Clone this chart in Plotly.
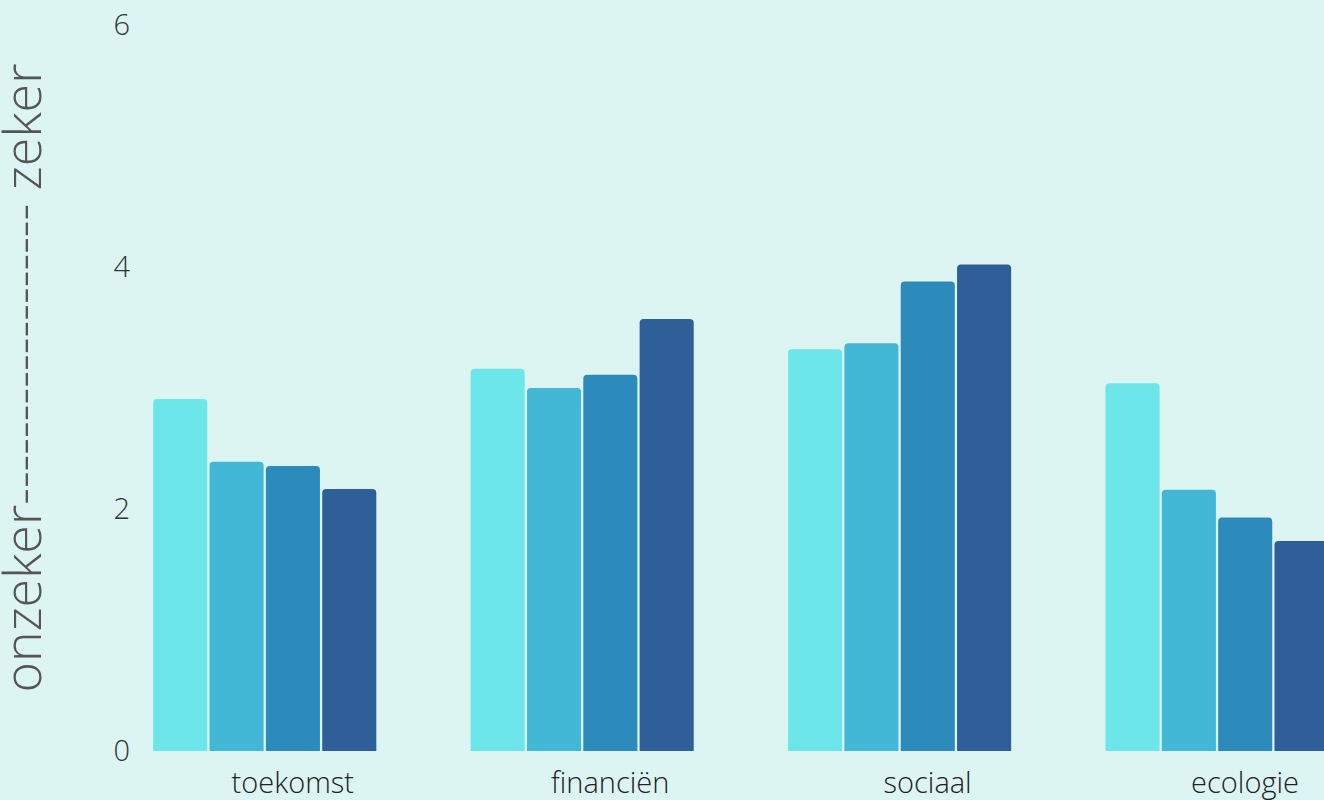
import plotly.graph_objects as go

categories = ["toekomst", "financiën", "sociaal", "ecologie"]
series_names = ["reeks 1", "reeks 2", "reeks 3", "reeks 4"]
values_1 = [2.91, 3.16, 3.32, 3.04]
values_2 = [2.39, 3.00, 3.37, 2.16]
values_3 = [2.355, 3.11, 3.88, 1.93]
values_4 = [2.165, 3.57, 4.02, 1.735]
colors = ["#6ce6e9", "#42b8d6", "#2c8bba", "#2e5f98"]
y_ticks = [0, 2, 4, 6]
y_title = "onzeker" + "-" * 18 + " zeker"

FONT = "Open Sans"
BG = "#dcf5f2"

fig = go.Figure()
for name, vals, col in zip(series_names, [values_1, values_2, values_3, values_4], colors):
    fig.add_trace(go.Bar(x=categories, y=vals, name=name,
                         marker=dict(color=col, line=dict(width=0))))

fig.update_layout(
    width=1324, height=800,
    margin=dict(l=140, r=0, t=25, b=49),
    paper_bgcolor=BG, plot_bgcolor=BG,
    barmode="group", bargap=0.29, bargroupgap=0.04,
    barcornerradius=4,
    showlegend=False,
    font=dict(family=FONT, weight=300),
)
fig.update_xaxes(
    type="category", range=[-0.393, 3.337],
    showgrid=False, zeroline=False, showline=False, ticks="",
    tickfont=dict(family=FONT, size=29, color="#222222", weight=300),
    ticklabelshift=28, ticklabelstandoff=12,
)
fig.update_yaxes(
    range=[0, 6], tickvals=y_ticks,
    showgrid=False, zeroline=False, showline=False, ticks="",
    tickfont=dict(family=FONT, size=29, color="#333333", weight=300),
    ticklabelstandoff=9,
)
fig.add_annotation(
    text=y_title, textangle=-90,
    xref="paper", yref="paper",
    x=-(140 - 21) / 1184, y=0.513,
    xanchor="center", yanchor="middle", showarrow=False,
    font=dict(family=FONT, size=52, color="#555555", weight=300),
)

fig.write_html(
    "out.html",
    config={"displayModeBar": False},
    post_script="document.body.style.margin='0';document.body.style.background='%s';" % BG,
)
